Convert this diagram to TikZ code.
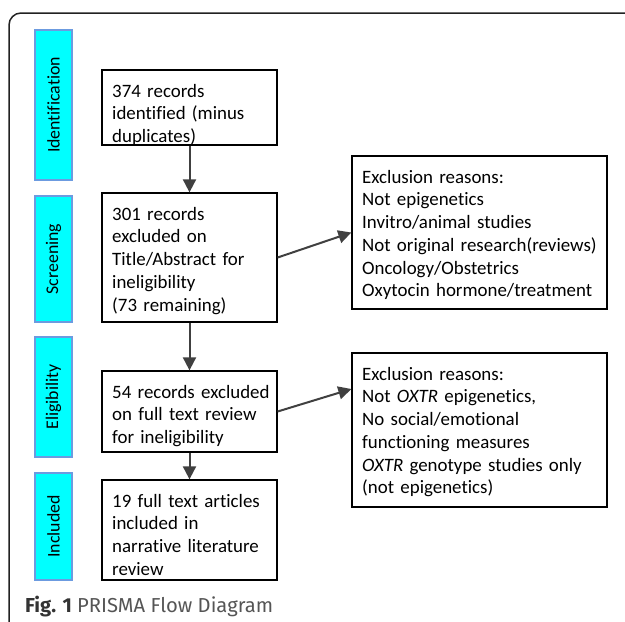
\documentclass[tikz,border=0pt]{standalone}
\usepackage{fontspec}
\setmainfont{Carlito}[Ligatures=NoCommon]
\newfontfamily\capfont{Fira Sans}
\usetikzlibrary{arrows.meta,calc}
\definecolor{labcyan}{HTML}{00FFFF}
\definecolor{labedge}{HTML}{6C9BE0}
\definecolor{arrowgray}{HTML}{404040}
\definecolor{framecol}{HTML}{222222}
\definecolor{capdark}{HTML}{333333}
\definecolor{capgray}{HTML}{555555}
\begin{document}
\begin{tikzpicture}[x=1pt,y=-1pt,
  stagebox/.style={draw=labedge, fill=labcyan, line width=1.5pt, inner sep=0pt, rotate=90,
    minimum height=37pt, font=\fontsize{17.8}{20}\selectfont},
  flowbox/.style={draw=black, line width=1.3pt, inner sep=0pt, minimum width=175pt},
  exbox/.style={draw=black, line width=1.3pt, inner sep=0pt, minimum width=255pt},
  boxtext/.style={anchor=north west, inner sep=0pt, text width=250pt, align=left,
    font=\fontsize{18.9}{22.75}\selectfont},
  flowarrow/.style={draw=arrowgray, line width=2pt, -{Triangle[length=13pt,width=13pt]}}
]
\useasboundingbox (0,0) rectangle (625,622);
% frame
\draw[line width=1.5pt, framecol, rounded corners=12pt] (625,13) -- (9,13) -- (9,622);
% stage labels
\node[stagebox, minimum width=150pt] (s1) at (53.5,105) {Identification};
\node[stagebox, minimum width=126pt] (s2) at (53.5,259) {Screening};
\node[stagebox, minimum width=120pt] (s3) at (53.5,397) {Eligibility};
\node[stagebox, minimum width=107pt] (s4) at (53.5,526.5) {Included};
% main boxes
\node[flowbox, minimum height=75pt] (b1) at (189.5,107.5) {};
\node[flowbox, minimum height=129pt] (b2) at (189.5,257.5) {};
\node[flowbox, minimum height=81pt] (b3) at (189.5,411.5) {};
\node[flowbox, minimum height=100pt] (b4) at (189.5,530) {};
% exclusion boxes
\node[exbox, minimum height=153pt] (e1) at (479.5,232.5) {};
\node[exbox, minimum height=154pt] (e2) at (479.5,430) {};
% texts
\node[boxtext] (t1) at (112,81.1) {\strut 374 records\\identified (minus\\duplicates)};
\node[boxtext] (t2) at (112,204.1) {\strut 301 records\\excluded on\\Title/Abstract for\\ineligibility\\(73 remaining)};
\node[boxtext] (t3) at (112,382.1) {\strut 54 records excluded\\on full text review\\for ineligibility};
\node[boxtext] (t4) at (112,491.1) {\strut 19 full text articles\\included in\\narrative literature\\review};
\node[boxtext] (te1) at (362,167.1) {\strut Exclusion reasons:\\Not epigenetics\\Invitro/animal studies\\Not original research(reviews)\\Oncology/Obstetrics\\Oxytocin hormone/treatment};
\node[boxtext] (te2) at (362,364.1) {\strut Exclusion reasons:\\Not \textit{OXTR} epigenetics,\\No social/emotional\\functioning measures\\\textit{OXTR} genotype studies only\\(not epigenetics)};
% arrows
\draw[flowarrow] (b1.south) -- (b2.north);
\draw[flowarrow] (b2.south) -- (b3.north);
\draw[flowarrow] (b3.south) -- (b4.north);
\draw[flowarrow] (b2.east) -- (e1.west);
\draw[flowarrow] (b3.east) -- ([yshift=41pt]e2.west);
% caption
\node[anchor=base west, inner sep=0pt, font=\capfont\fontsize{20.2}{22}\selectfont] (cap) at (25,612)
  {{\color{capdark}\bfseries Fig. 1} \color{capgray}PRISMA Flow Diagram};
\end{tikzpicture}
\end{document}
